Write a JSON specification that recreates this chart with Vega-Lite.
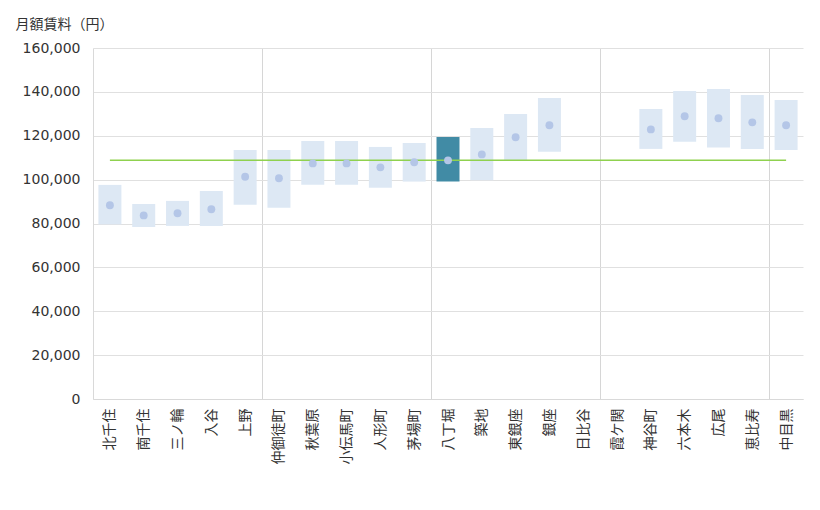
{
  "$schema": "https://vega.github.io/schema/vega-lite/v6.json",
  "width": 710,
  "height": 351,
  "autosize": "none",
  "padding": {"left": 93, "top": 48, "right": 17, "bottom": 111},
  "background": "white",
  "config": {"view": {"stroke": null}, "font": "DejaVu Sans"},
  "data": {
    "values": [
      {"station": "北千住", "low": 79600, "high": 97600, "avg": 88300},
      {"station": "南千住", "low": 78400, "high": 88900, "avg": 83700},
      {"station": "三ノ輪", "low": 78900, "high": 90300, "avg": 84700},
      {"station": "入谷", "low": 78900, "high": 94800, "avg": 86500},
      {"station": "上野", "low": 88600, "high": 113500, "avg": 101300},
      {"station": "仲御徒町", "low": 87200, "high": 113500, "avg": 100600},
      {"station": "秋葉原", "low": 97700, "high": 117600, "avg": 107400},
      {"station": "小伝馬町", "low": 97700, "high": 117600, "avg": 107400},
      {"station": "人形町", "low": 96300, "high": 114900, "avg": 105600},
      {"station": "茅場町", "low": 99100, "high": 116700, "avg": 107900},
      {"station": "八丁堀", "low": 99100, "high": 119400, "avg": 108800},
      {"station": "築地", "low": 99700, "high": 123500, "avg": 111500},
      {"station": "東銀座", "low": 109000, "high": 129900, "avg": 119300},
      {"station": "銀座", "low": 112700, "high": 137200, "avg": 124800},
      {"station": "神谷町", "low": 114000, "high": 132200, "avg": 122900},
      {"station": "六本木", "low": 117300, "high": 140400, "avg": 128900},
      {"station": "広尾", "low": 114600, "high": 141300, "avg": 128000},
      {"station": "恵比寿", "low": 114000, "high": 138600, "avg": 126100},
      {"station": "中目黒", "low": 113500, "high": 136300, "avg": 124800}
    ]
  },
  "encoding": {
    "x": {
      "field": "station",
      "type": "nominal",
      "scale": {
        "domain": ["北千住", "南千住", "三ノ輪", "入谷", "上野", "仲御徒町", "秋葉原", "小伝馬町", "人形町", "茅場町", "八丁堀", "築地", "東銀座", "銀座", "日比谷", "霞ケ関", "神谷町", "六本木", "広尾", "恵比寿", "中目黒"],
        "paddingInner": 0,
        "paddingOuter": 0
      },
      "axis": {
        "title": null,
        "labelAngle": -90,
        "labelPadding": 9,
        "labelFont": "Noto Sans CJK JP",
        "labelFontSize": 14,
        "labelColor": "#333333",
        "ticks": false,
        "tickBand": "extent",
        "grid": true,
        "gridColor": "#d6d6d6",
        "gridOpacity": {"condition": {"test": "indexof(['上野','茅場町','日比谷','恵比寿'], datum.value) >= 0", "value": 1}, "value": 0},
        "domainColor": "#d9d9d9"
      }
    }
  },
  "layer": [
    {
      "mark": {"type": "bar", "width": {"band": 0.68}},
      "encoding": {
        "y": {
          "field": "low",
          "type": "quantitative",
          "scale": {"domain": [0, 160000], "nice": false},
          "axis": {
            "values": [0, 20000, 40000, 60000, 80000, 100000, 120000, 140000, 160000],
            "format": ",.0f",
            "labelFontSize": 14,
            "labelColor": "#333333",
            "labelPadding": 13,
            "ticks": false,
            "gridColor": "#e0e0e0",
            "domainColor": "#d9d9d9",
            "title": "月額賃料（円）",
            "titleAngle": 0,
            "titleX": -78,
            "titleY": -24,
            "titleAlign": "left",
            "titleBaseline": "middle",
            "titleFont": "Noto Sans CJK JP",
            "titleFontSize": 14,
            "titleFontWeight": "normal",
            "titleColor": "#333333"
          }
        },
        "y2": {"field": "high"},
        "color": {
          "condition": {"test": "datum.station === '八丁堀'", "value": "#418ba5"},
          "value": "#dde8f4"
        }
      }
    },
    {
      "transform": [{"filter": "datum.station === '八丁堀'"}],
      "mark": {"type": "rule", "color": "#8fd14f", "strokeWidth": 1.5},
      "encoding": {
        "x": {"datum": "北千住", "type": "nominal"},
        "x2": {"datum": "中目黒"},
        "y": {"field": "avg", "type": "quantitative"}
      }
    },
    {
      "mark": {"type": "circle", "size": 62, "color": "#b4c6e7", "opacity": 1},
      "encoding": {
        "y": {"field": "avg", "type": "quantitative"}
      }
    }
  ]
}
